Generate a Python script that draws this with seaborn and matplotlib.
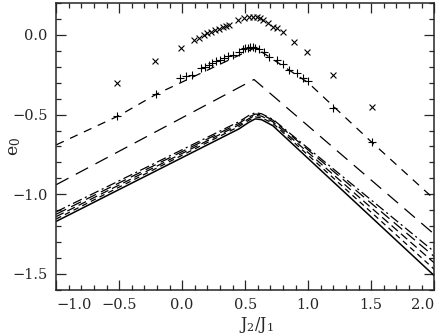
import numpy as np
import pandas as pd
import matplotlib
matplotlib.use("Agg")
import matplotlib.pyplot as plt
import seaborn as sns
from matplotlib.ticker import MultipleLocator

# ---- data ----
# lower bundle of curves (solid + close dashed ones)
bundle_x = [-1.0, 0.45, 0.53, 0.58, 0.63, 0.72, 2.0]
solid_y = [-1.17, -0.59, -0.548, -0.527, -0.532, -0.57, -1.51]
dash1_y = [-1.155, -0.575, -0.535, -0.515, -0.52, -0.555, -1.47]
dash2_y = [-1.14, -0.565, -0.525, -0.505, -0.51, -0.545, -1.43]
dash3_y = [-1.125, -0.555, -0.515, -0.497, -0.50, -0.535, -1.39]
dashdot_y = [-1.11, -0.545, -0.505, -0.488, -0.495, -0.53, -1.36]

# long dashed curve
long_x = [-1.0, 0.57, 2.0]
long_y = [-0.94, -0.28, -1.25]

# short dashed curve (through the + points)
short_x = [-1.0, -0.5, -0.2, 0.58, 1.0, 1.5, 2.0]
short_y = [-0.69, -0.506, -0.37, -0.08, -0.30, -0.67, -1.03]

plus_x = [-0.52, -0.21, -0.02, 0.03, 0.08, 0.15, 0.18, 0.21, 0.24, 0.27, 0.30,
          0.33, 0.36, 0.40, 0.45, 0.48, 0.50, 0.52, 0.54, 0.56, 0.58, 0.61,
          0.65, 0.69, 0.75, 0.80, 0.85, 0.91, 0.96, 1.0, 1.2, 1.51]
plus_y = [-0.506, -0.37, -0.27, -0.255, -0.25, -0.21, -0.20, -0.19, -0.175,
          -0.165, -0.155, -0.145, -0.135, -0.125, -0.106, -0.09, -0.085, -0.08,
          -0.078, -0.077, -0.08, -0.09, -0.11, -0.14, -0.16, -0.18, -0.22,
          -0.24, -0.27, -0.29, -0.456, -0.67]

cross_x = [-0.52, -0.215, -0.01, 0.09, 0.135, 0.175, 0.20, 0.23, 0.26, 0.29,
           0.32, 0.35, 0.375, 0.44, 0.49, 0.53, 0.56, 0.59, 0.62, 0.64, 0.68,
           0.72, 0.75, 0.80, 0.89, 0.99, 1.2, 1.51]
cross_y = [-0.30, -0.163, -0.08, -0.03, -0.02, 0.0, 0.01, 0.02, 0.03, 0.04,
           0.05, 0.055, 0.0625, 0.094, 0.106, 0.11, 0.112, 0.11, 0.105, 0.094,
           0.075, 0.05, 0.045, 0.02, -0.044, -0.11, -0.25, -0.45]

xtick_vals = [-1.0, -0.5, 0.0, 0.5, 1.0, 1.5, 2.0]
xtick_text = ["\u22121.0", "\u22120.5", "0.0", "0.5", "1.0", "1.5", "2.0"]
ytick_vals = [-1.5, -1.0, -0.5, 0.0]
ytick_text = ["\u22121.5", "\u22121.0", "\u22120.5", "0.0"]

sns.set_style("ticks")
plt.rcParams["font.family"] = ["DejaVu Serif"]
plt.rcParams["mathtext.default"] = "regular"
plt.rcParams["lines.scale_dashes"] = False

fig = plt.figure(figsize=(4.39, 3.34), dpi=100)
ax = fig.add_axes([0.128, 0.132, 0.861, 0.859])

lw = 0.9
sns.lineplot(x=bundle_x, y=solid_y, ax=ax, color="k", lw=1.1, sort=False, estimator=None)
sns.lineplot(x=bundle_x, y=dash1_y, ax=ax, color="k", lw=lw, sort=False, estimator=None,
             linestyle=(0, (4, 3)))
sns.lineplot(x=bundle_x, y=dash2_y, ax=ax, color="k", lw=lw, sort=False, estimator=None,
             linestyle=(0, (6, 3)))
sns.lineplot(x=bundle_x, y=dash3_y, ax=ax, color="k", lw=lw, sort=False, estimator=None,
             linestyle=(0, (8, 4)))
sns.lineplot(x=bundle_x, y=dashdot_y, ax=ax, color="k", lw=lw, sort=False, estimator=None,
             linestyle=(0, (7, 2.5, 1.5, 2.5)))
sns.lineplot(x=long_x, y=long_y, ax=ax, color="k", lw=lw, sort=False, estimator=None,
             linestyle=(0, (10, 6)))
sns.lineplot(x=short_x, y=short_y, ax=ax, color="k", lw=lw, sort=False, estimator=None,
             linestyle=(0, (6, 5)))

sns.scatterplot(x=plus_x, y=plus_y, ax=ax, marker="+", color="k", s=30, linewidth=0.8)
sns.scatterplot(x=cross_x, y=cross_y, ax=ax, marker="x", color="k", s=18, linewidth=0.8)

ax.set_xlim(-1.0, 2.0)
ax.set_ylim(-1.6, 0.2)
ax.xaxis.set_minor_locator(MultipleLocator(0.1))
ax.yaxis.set_minor_locator(MultipleLocator(0.1))
ax.set_xticks(xtick_vals)
ax.set_xticklabels(xtick_text)
ax.set_yticks(ytick_vals)
ax.set_yticklabels(ytick_text)
ax.tick_params(which="both", direction="in", top=True, right=True, width=0.9)
ax.tick_params(which="major", length=7, labelsize=10.5, pad=6)
ax.tick_params(which="minor", length=3.5)
labels = ax.get_xticklabels()
labels[0].set_horizontalalignment("left")
labels[-1].set_horizontalalignment("right")
for sp in ax.spines.values():
    sp.set_linewidth(1.1)

ax.set_xlabel("J$_2$/J$_1$", fontsize=11.5)
ax.set_ylabel("e$_0$", fontsize=12.5)
ax.xaxis.set_label_coords(0.53, -0.088)
ax.yaxis.set_label_coords(-0.088, 0.50)

fig.savefig("out.png", dpi=100)
